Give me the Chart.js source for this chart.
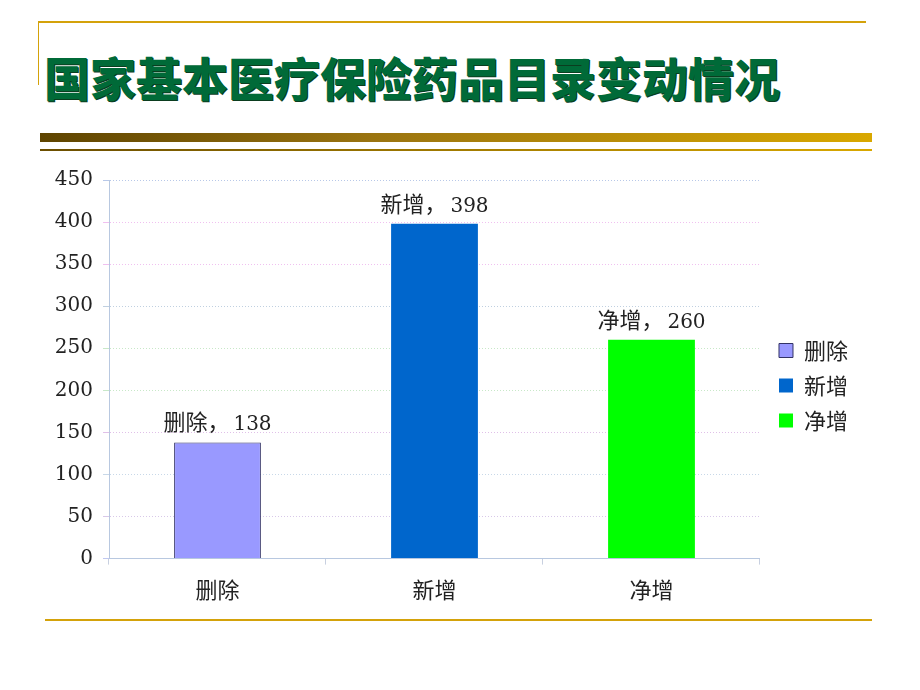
<!DOCTYPE html>
<html>
<head>
<meta charset="utf-8">
<script src="https://cdn.jsdelivr.net/npm/chart.js@4/dist/chart.umd.min.js"></script>
<style>
  html, body { margin: 0; padding: 0; background: #fff; }
  body { width: 920px; height: 690px; position: relative; overflow: hidden; }
  .topline { position: absolute; left: 38px; top: 21px; width: 828px; height: 2px; background: #d4a20a; }
  .leftline { position: absolute; left: 38px; top: 21px; width: 1px; height: 64px; background: #d4a20a; }
  .title {
    position: absolute; left: 44px; top: 46px;
    font-family: "Noto Sans CJK SC", sans-serif; font-weight: 900; font-size: 46px; line-height: 60px;
    color: #006a38; letter-spacing: 0px; text-shadow: 1px 1px 0 #0b3d1f;
  }
  .bar1 { position: absolute; left: 40px; top: 133px; width: 832px; height: 9px;
    background: linear-gradient(to right, #5e4400, #9a7410 40%, #d9a800 100%); }
  .bar2 { position: absolute; left: 40px; top: 149px; width: 832px; height: 2px;
    background: linear-gradient(to right, #6b4e00, #d9a800); }
  .bottomline { position: absolute; left: 45px; top: 619px; width: 827px; height: 2px; background: #d4a20a; }
  #wrap { position: absolute; left: 0; top: 158px; width: 920px; height: 457px; }
</style>
</head>
<body>
<div class="topline"></div>
<div class="leftline"></div>
<div class="title">国家基本医疗保险药品目录变动情况</div>
<div class="bar1"></div>
<div class="bar2"></div>
<div class="bottomline"></div>
<div id="wrap"><canvas id="chart"></canvas></div>
<script>
const categories = ['删除', '新增', '净增'];
const values = [138, 398, 260];
const colors = ['#9999ff', '#0066cc', '#00ff00'];
const borders = ['#333366', '#0066cc', '#00ff00'];
const yTicks = [0, 50, 100, 150, 200, 250, 300, 350, 400, 450];

const numFont = '"DejaVu Serif", serif';
const cjkFont = '"Noto Sans CJK SC", sans-serif';

const datasets = categories.map((name, i) => ({
  label: name,
  data: categories.map((c, j) => (j === i ? values[i] : null)),
  backgroundColor: colors[i],
  borderColor: borders[i],
  borderWidth: i === 0 ? 1 : 0,
}));

// "删除，138" style labels above each bar
const valueLabels = {
  id: 'valueLabels',
  afterDatasetsDraw(chart) {
    const ctx = chart.ctx;
    ctx.save();
    ctx.fillStyle = '#222';
    ctx.textAlign = 'left';
    ctx.textBaseline = 'alphabetic';
    chart.data.datasets.forEach((ds, i) => {
      const meta = chart.getDatasetMeta(i);
      meta.data.forEach((bar, j) => {
        if (ds.data[j] == null) return;
        const head = ds.label + '，';
        const num = String(ds.data[j]);
        ctx.font = '22px ' + cjkFont;
        const w1 = ctx.measureText(head).width;
        ctx.font = '20px ' + numFont;
        const w2 = ctx.measureText(num).width;
        const gap = 4;
        const x0 = bar.x - (w1 + gap + w2) / 2;
        const y = bar.y - 12;
        ctx.font = '22px ' + cjkFont;
        ctx.fillText(head, x0, y);
        ctx.font = '20px ' + numFont;
        ctx.fillText(num, x0 + w1 + gap, y);
      });
    });
    ctx.restore();
  }
};

// nudge the legend a little up and right, like the slide
const legendNudge = {
  id: 'legendNudge',
  afterLayout(chart) {
    const lg = chart.legend;
    lg.left += 6; lg.right += 6;
    lg.top -= 6; lg.bottom -= 6;
  }
};

new Chart(document.getElementById('chart').getContext('2d'), {
  type: 'bar',
  data: { labels: categories, datasets },
  options: {
    responsive: true,
    maintainAspectRatio: false,
    animation: false,
    grouped: false,
    barPercentage: 0.4,
    categoryPercentage: 1,
    layout: { padding: { left: 41, top: 10, right: 68, bottom: 0 } },
    scales: {
      x: {
        grid: { display: true, drawOnChartArea: false, color: '#c8d0e0', tickLength: 6, offset: true },
        border: { color: '#b8c8e0', dash: [1, 2] },
        ticks: { color: '#222', font: { size: 22, family: cjkFont }, padding: 12 },
      },
      y: {
        min: 0, max: 450,
        afterBuildTicks: s => { s.ticks = yTicks.map(v => ({ value: v })); },
        afterFit: s => { s.width = 68; },
        grid: { color: ['#c0c8f0', '#d8c8e8', '#c8d8e8', '#e0c0e8', '#c8e8c8', '#c8e8c8', '#c0d0e0', '#f0c0f0', '#f0c0f0', '#b8c8e8'], tickLength: 6 },
        border: { color: '#b8c8e0', dash: [1, 2] },
        ticks: { color: '#222', font: { size: 20, family: numFont }, padding: 10 },
      },
    },
    plugins: {
      legend: {
        position: 'right',
        labels: {
          boxWidth: 14, boxHeight: 14, padding: 13,
          color: '#222', font: { size: 22, family: cjkFont },
        },
      },
      tooltip: { enabled: false },
    },
  },
  plugins: [valueLabels, legendNudge],
});
</script>
</body>
</html>
